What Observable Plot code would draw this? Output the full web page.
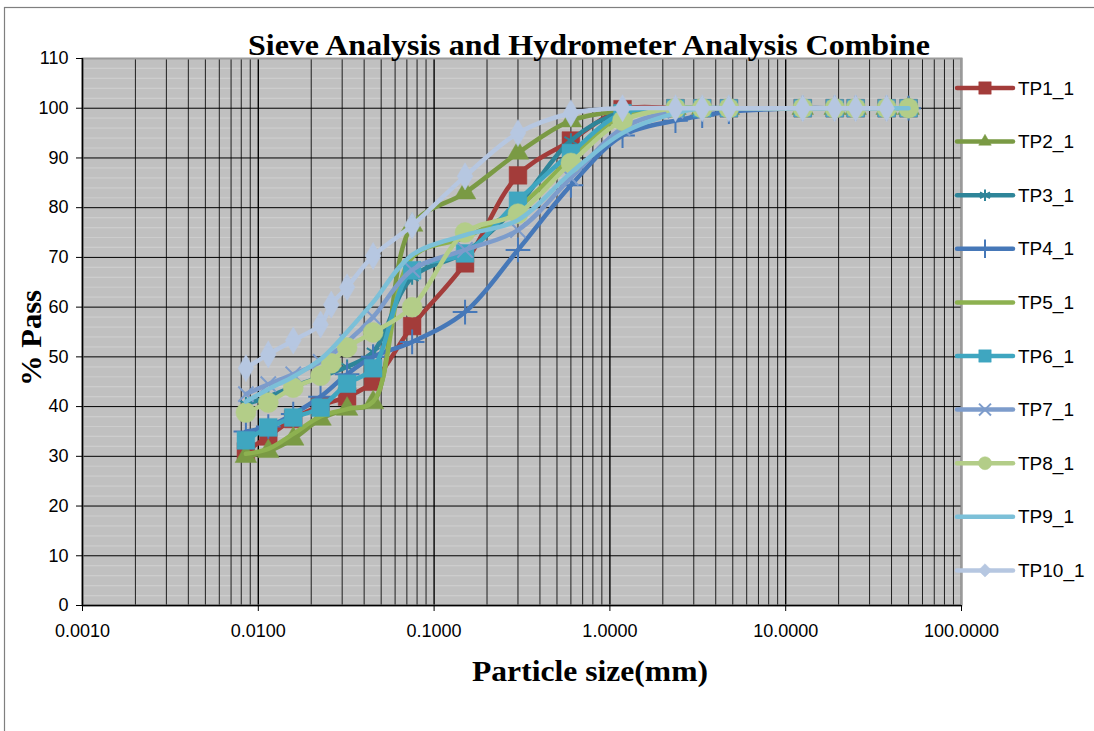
<!DOCTYPE html>
<html><head><meta charset="utf-8">
<script src="https://cdn.jsdelivr.net/npm/d3@7"></script>
<script src="https://cdn.jsdelivr.net/npm/@observablehq/plot@0.6"></script>
<style>body{margin:0;background:#fff}#chart{position:relative;width:1094px;height:731px}</style>
</head><body><div id="chart"></div>
<script>
// ---- data ----
const seriesNames = ["TP1_1","TP2_1","TP3_1","TP4_1","TP5_1","TP6_1","TP7_1","TP8_1","TP9_1","TP10_1"];
const seriesColors = ["#A33C3A","#7A9A44","#2E8599","#4678B8","#8DB150","#3FA6C0","#7D9CCB","#B3CD88","#7CC0D8","#B6C7E1"];
const seriesSymbols = ["square","triangle","asterisk","plus",null,"square","times","circle",null,"diamond"];
const seriesSymbolR = [10,8,7,8,0,10,7,10,0,8.2];
const legendSymbolR = [7,6,5.5,6,0,7,5.5,6.5,0,6];

const sieveSizes = [50,37.5,25,19,12.5,4.75,3.35,2.36,1.18,0.6,0.3,0.15,0.075];
const sieveSizesNo50 = [37.5,25,19,12.5,4.75,3.35,2.36,1.18,0.6,0.3,0.15,0.075];
const hydroSizes6 = [0.045,0.032,0.0226,0.0158,0.0114,0.0085];
const hydroSizes7 = [0.045,0.032,0.026,0.0226,0.0158,0.0114,0.0085];

const passTP1  = [100,100,100,100,100,100,100,100,99.8,93.5,86.5,68.8,56.2, 45,42,40.2,37.5,34,31];
const passTP2  = [100,100,100,100,100,100,100,100,99.5,97.5,91,83,76.5, 40.8,39.5,37.5,33.5,31,30];
const passTP3  = [100,100,100,100,100,100,100,100,99.3,93.5,80.5,71,66, 51,48,46,44,42,40.5];
const passTP4  = [100,100,100,100,100,99.3,98.5,97.5,94.5,84.5,71.5,59,53, 50,46.5,42,38.5,36,35];
const passTP5  = [100,100,100,100,100,100,100,100,98.5,90,80,74,70, 41,39.5,38,34.5,31.5,30.5];
const passTP6  = [100,100,100,100,100,100,100,100,99,91,81.4,70.8,67.4, 47.7,44.6,39.8,37.8,35.8,33.2];
const passTP7  = [100,100,100,100,100,100,100,99.5,96,86,75.5,71.5,67.5, 58,53,49,46.5,44.5,42.5];
const passTP8  = [100,100,100,100,100,100,100,100,97.5,89,78.8,75,60, 54.9,51.9,48.7,46.2,43.8,40.8,38.8];
const passTP9  = [100,100,100,100,100,100,100,99,95,87,77.5,74.5,70.5, 61,55,49.5,46,43.5,41];
const passTP10 = [100,100,100,100,100,100,100,100,99,95,86.3,76.4, 70.3,64,60.5,56.5,53.3,50.5,47.7];

const seriesSizes = [
  sieveSizes.concat(hydroSizes6), sieveSizes.concat(hydroSizes6), sieveSizes.concat(hydroSizes6),
  sieveSizes.concat(hydroSizes6), sieveSizes.concat(hydroSizes6), sieveSizes.concat(hydroSizes6),
  sieveSizes.concat(hydroSizes6), sieveSizes.concat(hydroSizes7), sieveSizes.concat(hydroSizes6),
  sieveSizesNo50.concat(hydroSizes7)
];
const seriesPass = [passTP1,passTP2,passTP3,passTP4,passTP5,passTP6,passTP7,passTP8,passTP9,passTP10];

const xTickValues = [0.001,0.01,0.1,1,10,100];
const yTickValues = [0,10,20,30,40,50,60,70,80,90,100,110];

const titleText = "Sieve Analysis and Hydrometer Analysis Combine";
const xLabelText = "Particle size(mm)";
const yLabelText = "% Pass";

// ---- build ----
const rows = seriesNames.map((name, i) =>
  seriesSizes[i].map((s, j) => ({series: name, size: s, pass: seriesPass[i][j]}))
    .sort((a, b) => a.size - b.size));

const minorX = [];
for (const d of xTickValues.slice(0, -1)) for (let k = 2; k <= 9; k++) minorX.push(d * k);
const minorY = d3.range(0, 111, 2).filter(v => v % 10 !== 0);

const marks = [
  Plot.frame({fill: "#c0c0c0"}),
  Plot.ruleY(minorY, {stroke: "#cdcdcd", strokeWidth: 1.2}),
  Plot.ruleX(minorX, {stroke: "#1e1e1e", strokeWidth: 1}),
  Plot.ruleY(yTickValues, {stroke: "#000", strokeWidth: 1}),
  Plot.ruleX(xTickValues, {stroke: "#000", strokeWidth: 1.4}),
  Plot.frame({stroke: "#9a9a9a", strokeWidth: 2}),
  Plot.ruleX([0.001], {stroke: "#000", strokeWidth: 1.4}),
  Plot.ruleY([0], {stroke: "#000", strokeWidth: 1.4}),
  Plot.axisY({ticks: yTickValues, tickSize: 6, tickPadding: 8, fontSize: 18, label: null}),
  Plot.axisX({ticks: xTickValues, tickFormat: d => d.toFixed(4), tickSize: 6, tickPadding: 13, fontSize: 18, label: null})
];
rows.forEach((data, i) => {
  marks.push(Plot.line(data, {x: "size", y: "pass", stroke: seriesColors[i], strokeWidth: 4.5, curve: "catmull-rom", strokeLinejoin: "round", strokeLinecap: "round"}));
  const sym = seriesSymbols[i];
  if (sym) {
    const strokeOnly = ["asterisk","plus","times"].includes(sym);
    marks.push(Plot.dot(data, {x: "size", y: "pass", symbol: () => sym, r: seriesSymbolR[i],
      fill: strokeOnly ? "none" : seriesColors[i], stroke: seriesColors[i], strokeWidth: strokeOnly ? 2 : 0.5}));
  }
});

const svg = Plot.plot({
  width: 1094, height: 731,
  marginLeft: 82, marginRight: 133, marginTop: 58, marginBottom: 126,
  x: {type: "log", domain: [0.001, 100]},
  y: {domain: [0, 110]},
  symbol: {type: "identity"},
  style: {background: "#fff", fontFamily: "'Liberation Sans', Arial, sans-serif", color: "#000", overflow: "visible"},
  marks
});
document.getElementById("chart").appendChild(svg);

// ---- annotations: border, title, axis titles, legend ----
const g = d3.select(svg);
g.insert("rect", ":first-child").attr("x", 4.5).attr("y", 7.5).attr("width", 1200).attr("height", 900)
  .attr("fill", "#fff").attr("stroke", "#7f7f7f").attr("stroke-width", 1.2);
const serif = "'Liberation Serif', 'Times New Roman', serif";
g.append("text").attr("x", 589).attr("y", 55).attr("text-anchor", "middle")
  .attr("font-family", serif).attr("font-weight", "bold").attr("font-size", 30)
  .attr("textLength", 682).attr("lengthAdjust", "spacingAndGlyphs").text(titleText);
g.append("text").attr("x", 590).attr("y", 681).attr("text-anchor", "middle")
  .attr("font-family", serif).attr("font-weight", "bold").attr("font-size", 30)
  .attr("textLength", 236).attr("lengthAdjust", "spacingAndGlyphs").text(xLabelText);
g.append("text").attr("transform", "translate(41,338) rotate(-90)").attr("text-anchor", "middle")
  .attr("font-family", serif).attr("font-weight", "bold").attr("font-size", 30)
  .attr("textLength", 96).attr("lengthAdjust", "spacingAndGlyphs").text(yLabelText);

const symbolMap = {square: d3.symbolSquare, triangle: d3.symbolTriangle2, asterisk: d3.symbolAsterisk,
  plus: d3.symbolPlus, times: d3.symbolTimes, circle: d3.symbolCircle, diamond: d3.symbolDiamond2};
const leg = g.append("g").attr("text-anchor", "start");
seriesNames.forEach((name, i) => {
  const y = 88 + i * 53.6;
  leg.append("line").attr("x1", 957).attr("x2", 1013).attr("y1", y).attr("y2", y)
    .attr("stroke", seriesColors[i]).attr("stroke-width", 4.5).attr("stroke-linecap", "round");
  const sym = seriesSymbols[i];
  if (sym) {
    const strokeOnly = ["asterisk","plus","times"].includes(sym);
    const r = legendSymbolR[i];
    leg.append("path").attr("transform", `translate(985,${y})`)
      .attr("d", d3.symbol(symbolMap[sym], Math.PI * r * r)())
      .attr("fill", strokeOnly ? "none" : seriesColors[i]).attr("stroke", seriesColors[i])
      .attr("stroke-width", strokeOnly ? 2 : 0.5);
  }
  leg.append("text").attr("x", 1018).attr("y", y).attr("dy", "0.35em").attr("text-anchor", "start")
    .attr("font-family", "'Liberation Sans', Arial, sans-serif").attr("font-size", 19).text(name);
});
</script></body></html>
